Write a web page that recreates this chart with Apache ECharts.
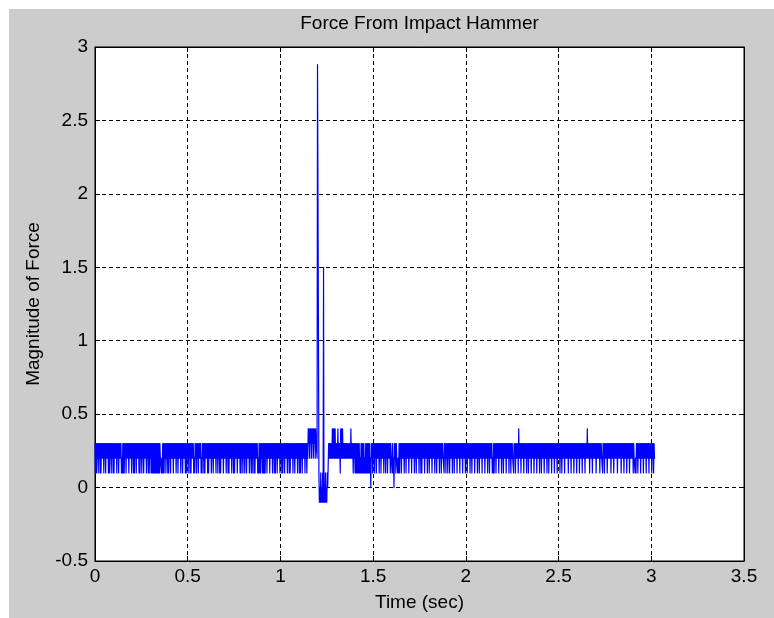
<!DOCTYPE html>
<html>
<head>
<meta charset="utf-8">
<script src="https://cdn.jsdelivr.net/npm/echarts@6/dist/echarts.min.js"></script>
<style>
html,body{margin:0;padding:0;background:#ffffff;width:774px;height:618px;overflow:hidden;}
#chart{position:absolute;left:9px;top:9px;width:765px;height:609px;}
</style>
</head>
<body>
<div id="chart"></div>
<script>
// ---- data ----
var titleText = 'Force From Impact Hammer';
var xName = 'Time (sec)';
var yName = 'Magnitude of Force';
var xTicks = [0, 0.5, 1, 1.5, 2, 2.5, 3, 3.5];
var yTicks = [-0.5, 0, 0.5, 1, 1.5, 2, 2.5, 3];
var sampleStep = 0.0025; // seconds between samples
// quantised force before the impact, one char per sample, value = digit / 10
var levelsBefore =
  "31313231323131323231" + "32313232313132313231" + "31323231323132323121" +
  "31313231323231323231" + "32313132313232313132" + "31323132323132313132" +
  "31313131313131313131" + "32212131313231323131" + "32313232313232313231" +
  "32323132313232313132" + "31323131323231213231" + "32313232312132313132" +
  "32313132323132313232" + "31323132313132323132" + "32313231313232313231" +
  "31323231323231313231" + "32313231323231323131" + "32313132323121313132" +
  "31313131323132323132" + "32313231313231323231" + "32313132313232313231" +
  "31323231323132323132" + "31313231323231323132";
// samples around the hammer impact (force values)
var impactValues = [
  0.4, 0.3, 0.4, 0.2, 0.4, 0.3, 0.4, 0.2, 0.4, 0.3, 0.4, 0.2, 0.4, 0.3, 0.4, 0.2, 0.4, 0.3,
  0.3, 0.2, 2.88, 2.0, 2.0,
  0.1, -0.1, 0.0, -0.1, 0.1, -0.1, 0.0, -0.1, 0.1, -0.1,
  1.5,
  -0.1, 0.0, -0.1, 0.1, -0.1, 0.0, -0.1, 0.1, 0.0, 0.0
];
// quantised force after the impact, value = digit / 10
var levelsAfter =
  "32323232424242423232" + "42323142424232323232" + "32323232423231323131" +
  "31313131213131313121" + "31313131312032313231" + "32313232313231323231" +
  "32313231323231322131" + "20323132212131323132" + "32313231323231323231" +
  "32323132313232313231" + "31323231323231323132" + "32313232313231323231" +
  "32313232213231323132" + "31323231323132323132" + "32313232313232313231" +
  "32323132313232313232" + "31323132323132323132" + "32313231323231213132" +
  "31323231323231323132" + "32313232313231323221" + "32313232314232313232" +
  "31323231323132323132" + "32313232313232313231" + "32323132323132313232" +
  "31323231323231323231" + "32313232313232323132" + "32313232313232313232" +
  "31323231323231323242" + "32313232313232323132" + "32323132322132313232" +
  "31323232313232313232" + "32313232323132323132" + "32313232313232323132" +
  "21213231323231323231" + "32323132323132323132" + "3132";

// ---- build series ----
var values = [];
levelsBefore.split('').forEach(function (c) { values.push(Number(c) / 10); });
impactValues.forEach(function (v) { values.push(v); });
levelsAfter.split('').forEach(function (c) { values.push(Number(c) / 10); });
var seriesData = values.map(function (v, i) { return [i * sampleStep, v]; });

var FONT = 'Liberation Sans, Arial, Helvetica, sans-serif';
var chart = echarts.init(document.getElementById('chart'), null, {renderer: 'canvas'});

function baseAxis(extra) {
  var a = {
    type: 'value',
    axisLine: {show: true, onZero: false, lineStyle: {color: '#000', width: 1}},
    axisTick: {show: true, inside: true, length: 5, lineStyle: {color: '#000'}},
    splitLine: {show: false},
    axisLabel: {show: false}
  };
  for (var k in extra) a[k] = extra[k];
  return a;
}

var option = {
  animation: false,
  backgroundColor: '#cccccc',
  title: {
    text: titleText,
    left: 410.5,
    textAlign: 'center',
    top: 5,
    padding: 0,
    textStyle: {fontFamily: FONT, fontSize: 19, fontWeight: 'normal', color: '#000'}
  },
  grid: {
    left: 86, top: 38, right: 30, bottom: 57,
    show: true, backgroundColor: '#ffffff', borderColor: '#000', borderWidth: 1
  },
  xAxis: [
    baseAxis({
      position: 'bottom',
      min: xTicks[0], max: xTicks[xTicks.length - 1], interval: 0.5,
      splitLine: {show: true, lineStyle: {color: '#000', type: [4, 3], width: 1}},
      axisLabel: {show: true, fontFamily: FONT, fontSize: 19, color: '#000', margin: 6},
      name: xName, nameLocation: 'middle', nameGap: 32,
      nameTextStyle: {fontFamily: FONT, fontSize: 19, color: '#000'}
    }),
    baseAxis({
      position: 'top',
      min: xTicks[0], max: xTicks[xTicks.length - 1], interval: 0.5
    })
  ],
  yAxis: [
    baseAxis({
      position: 'left',
      min: yTicks[0], max: yTicks[yTicks.length - 1], interval: 0.5,
      splitLine: {show: true, lineStyle: {color: '#000', type: [4, 3], width: 1}},
      axisLabel: {show: true, fontFamily: FONT, fontSize: 19, color: '#000', margin: 7},
      name: yName, nameLocation: 'middle', nameGap: 52, nameRotate: 90,
      nameTextStyle: {fontFamily: FONT, fontSize: 19, color: '#000'}
    }),
    baseAxis({
      position: 'right',
      min: yTicks[0], max: yTicks[yTicks.length - 1], interval: 0.5
    })
  ],
  series: [{
    type: 'line',
    data: seriesData,
    xAxisIndex: 0,
    yAxisIndex: 0,
    showSymbol: false,
    symbol: 'none',
    sampling: null,
    lineStyle: {color: '#0000ff', width: 1.2, join: 'round', cap: 'round'},
    itemStyle: {color: '#0000ff'},
    z: 3
  }]
};
chart.setOption(option);
</script>
</body>
</html>
